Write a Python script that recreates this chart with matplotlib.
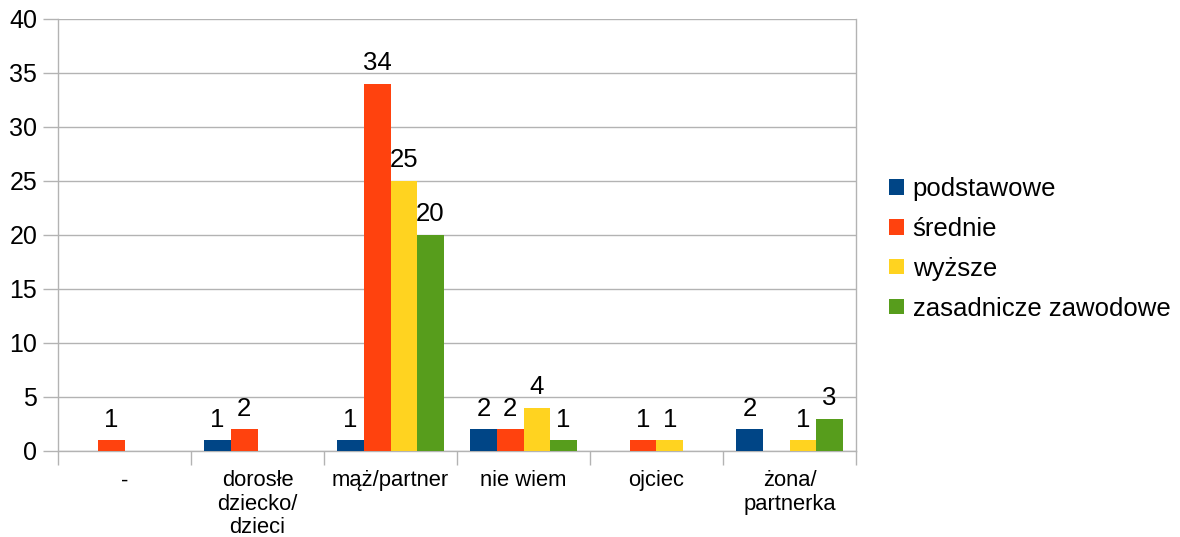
import numpy as np
import matplotlib
matplotlib.use("Agg")
import matplotlib.pyplot as plt

plt.rcParams['font.family'] = ['Liberation Sans', 'DejaVu Sans']

categories = ["-", "dorosłe\ndziecko/\ndzieci", "mąż/partner", "nie wiem", "ojciec", "żona/\npartnerka"]
series_names = ["podstawowe", "średnie", "wyższe", "zasadnicze zawodowe"]
podstawowe = [0, 1, 1, 2, 0, 2]
srednie = [1, 2, 34, 2, 1, 0]
wyzsze = [0, 0, 25, 4, 1, 1]
zasadnicze = [0, 0, 20, 1, 0, 3]
colors = ["#004586", "#ff420e", "#ffd320", "#579d1c"]
yticks = [0, 5, 10, 15, 20, 25, 30, 35, 40]

fig = plt.figure(figsize=(11.8, 5.37), dpi=100)
ax = fig.add_axes([58/1180, (537-451)/537, (856-58)/1180, (451-19)/537])

x = np.arange(len(categories))
w = 0.2
all_series = [podstawowe, srednie, wyzsze, zasadnicze]
for i, (vals, name, c) in enumerate(zip(all_series, series_names, colors)):
    pos = x + (i - 1.5) * w
    bars = ax.bar(pos, vals, width=w, color=c, label=name, zorder=3)
    for b, v in zip(bars, vals):
        if v > 0:
            ax.text(b.get_x() + b.get_width()/2, v + 0.8, str(v), ha='center', va='bottom',
                    fontsize=18.5, color='black')

ax.set_xlim(-0.5, len(categories) - 0.5)
ax.set_ylim(0, 40)
ax.set_yticks(yticks)
ax.set_yticklabels([str(t) for t in yticks], fontsize=18)
ax.yaxis.grid(True, color='#b3b3b3', linewidth=1, zorder=0)
ax.set_xticks(x)
ax.set_xticklabels(categories, fontsize=15.8, linespacing=1.15)
ax.set_xticks(np.arange(len(categories) + 1) - 0.5, minor=True)
ax.tick_params(axis='x', which='major', length=0, pad=14)
ax.tick_params(axis='x', which='minor', length=10, color='#b3b3b3', width=1)
ax.tick_params(axis='y', which='major', length=11, color='#b3b3b3', width=1, pad=4)

for s in ['left', 'bottom', 'right', 'top']:
    ax.spines[s].set_color('#b3b3b3')
    ax.spines[s].set_linewidth(1)
ax.spines['top'].set_visible(False)

leg = ax.legend(loc='center left', bbox_to_anchor=(1.029, 0.468), frameon=False, fontsize=18.5,
                handlelength=0.55, handleheight=0.55, handletextpad=0.35, labelspacing=0.62,
                borderaxespad=0)

fig.savefig("out.png", dpi=100)
